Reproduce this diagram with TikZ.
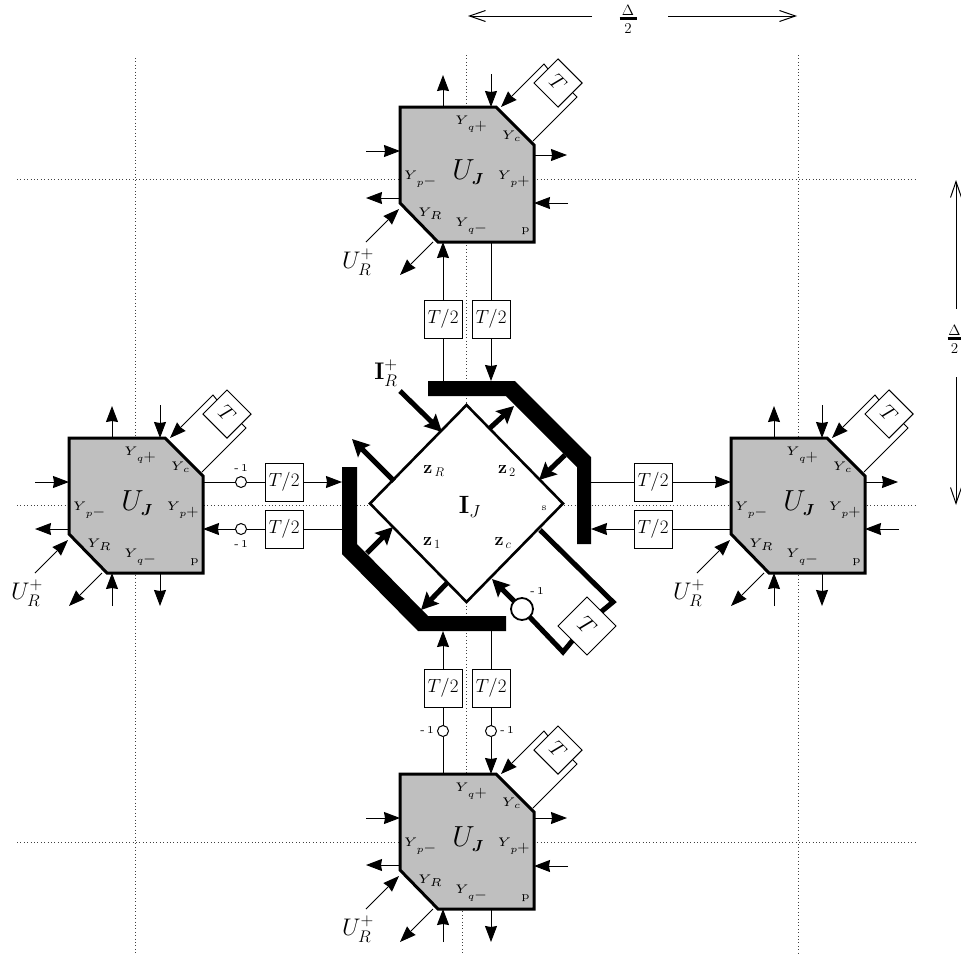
\RequirePackage{fix-cm}
\documentclass[tikz,border=0pt]{standalone}
\usepackage{amsmath}
\usepackage{bm}
\usepackage{graphicx}
\usetikzlibrary{arrows.meta,shapes.geometric}
\newcommand{\fsz}[1]{\fontsize{#1}{#1}\selectfont}
\newcommand{\ylab}[5]{\scalebox{2.5}{\tiny$Y$}\kern#5pt\raisebox{#2pt}{\scalebox{#3}{\tiny$#1$}}\raisebox{-6pt}{\fsz{16}#4}}
\newcommand{\ycorner}[4]{\scalebox{2.5}{\tiny$Y$}\kern#4pt\raisebox{#2pt}{\scalebox{#3}{\tiny$#1$}}}
\newcommand{\ujlab}{\fsz{29}$U$\kern-3pt\raisebox{-5pt}{\fsz{16}$\bm{J}$}}
\newcommand{\minusone}{\scalebox{2.1}{\tiny -\,1}}
\newcommand{\halfdelta}[1]{\vbox{\offinterlineskip\fsz{15}\hbox to #1{\hss$\Delta$\hss}\kern2pt\hrule height 2.6pt\kern3.5pt\hbox to #1{\hss$2$\hss}}}
\tikzset{
  thin line/.style={line width=1pt},
  tiparrow/.style={line width=1pt,-{Stealth[length=16pt,width=12pt,inset=1pt]}},
  barb/.style={line width=1pt,-{Straight Barb[length=16pt,width=11pt]}},
  fat/.style={line width=5pt,line join=miter},
  fatarrow/.style={line width=5pt,-{Stealth[length=17pt,width=17pt,inset=3pt]}},
  dotline/.style={line width=.8pt,black!75,dash pattern=on 1pt off 2.4pt},
  delaybox/.style={draw,fill=white,line width=1pt,minimum width=38pt,minimum height=38pt,inner sep=0pt,outer sep=0pt,font=\fsz{19}},
  tbox/.style={draw,fill=white,line width=1pt,minimum size=34pt,inner sep=0pt,outer sep=0pt,rotate=-45,font=\fsz{21}},
  bigtbox/.style={tbox,minimum size=41pt,font=\fsz{23}},
  inv/.style={circle,draw,fill=white,line width=1pt,minimum size=11pt,inner sep=0pt,outer sep=0pt},
  biginv/.style={circle,draw,fill=white,line width=1.8pt,minimum size=22pt,inner sep=0pt,outer sep=0pt},
  txt/.style={inner sep=0pt,outer sep=0pt},
  blockedge/.style={draw,fill=black!25,line width=3pt,line join=miter},
  coreedge/.style={diamond,draw,fill=white,line width=2.6pt,aspect=1,minimum width=193pt,minimum height=197pt,inner sep=0pt,outer sep=0pt},
}
% name, x, y, y of right-hand out arrow, y of right-hand in arrow
\newcommand{\ublock}[5]{%
\begin{scope}[shift={(#2,#3)},name prefix=#1-]
  \coordinate (nw) at (0,0);
  \coordinate (ne) at (96,0);
  \coordinate (en) at (134,38);
  \coordinate (se) at (134,135);
  \coordinate (sw) at (38,135);
  \coordinate (ws) at (0,96);
  \coordinate (qpo) at (43,0);  \coordinate (qpoend) at (43,-32);
  \coordinate (qpi) at (91,0);  \coordinate (qpistart) at (91,-33);
  \coordinate (pmi) at (0,44);  \coordinate (pmistart) at (-34,44);
  \coordinate (pmo) at (0,91);  \coordinate (pmoend) at (-34,91);
  \coordinate (ppo) at (134,#4);  \coordinate (ppoend) at (167,#4);
  \coordinate (ppi) at (134,#5);  \coordinate (ppistart) at (168,#5);
  \coordinate (qmi) at (43,135); \coordinate (qmistart) at (43,168);
  \coordinate (qmo) at (91,135); \coordinate (qmoend) at (91,168);
  \coordinate (ri) at (-1,102);  \coordinate (ristart) at (-34,135);
  \coordinate (ro) at (33,135);  \coordinate (roend) at (0,168);
  \coordinate (ctip) at (101,0); \coordinate (cknee) at (144,-43); \coordinate (cin) at (148,-38);
  \coordinate (cout) at (133,34); \coordinate (cknee2) at (177,-10); \coordinate (cret) at (173,-14);
  \draw[blockedge] (nw) -- (ne) -- (en) -- (se) -- (sw) -- (ws) -- cycle;
  \node[tbox] (t) at (158,-24) {$T$};
  \draw[thin line] (cout) -- (cknee2) -- (cret);
  \draw[tiparrow] (cin) -- (cknee) -- (ctip);
  \draw[tiparrow] (ristart) -- (ri);
  \draw[tiparrow] (ro) -- (roend);
  \node[txt] (yqp) at (71,17) {\ylab{q}{-5.5}{1.9}{$+$}{-1}};
  \node[txt] (yqm) at (71,119) {\ylab{q}{-5.5}{1.9}{$-$}{-1}};
  \node[txt] (ypm) at (20,72) {\ylab{p}{-5.5}{1.9}{$-$}{-1}};
  \node[txt] (ypp) at (113.5,72) {\ylab{p}{-5.5}{1.9}{$+$}{-1}};
  \node[txt] (yc) at (111,29) {\ycorner{c}{-2}{1.9}{-1.5}};
  \node[txt] (yr) at (30,107) {\ycorner{R}{-3}{2.3}{-2}};
  \node[txt] (uj) at (68,65) {\ujlab};
  \node[txt] (ptype) at (125.5,124) {\scalebox{2.2}{\tiny p}};
  \node[txt] (urp) at (-42,155) {\fsz{24}$U_R^+$};
\end{scope}}
\begin{document}
\begin{tikzpicture}[x=1pt,y=-1pt]
\useasboundingbox (0,0) rectangle (961,956);
% dotted grid
\draw[dotline] (17,179) -- (917,179);
\draw[dotline] (17,505) -- (917,505);
\draw[dotline] (17,842) -- (917,842);
\draw[dotline] (135,58) -- (135,955);
\draw[dotline] (466.5,55) -- (466.5,774);
\draw[dotline] (462,908) -- (462,955);
\draw[dotline] (798,55) -- (798,955);
% dimension marks
\node[txt] (dtop) at (628,19) {\halfdelta{17pt}};
\coordinate (dl) at (468,16); \coordinate (dr) at (797,16);
\coordinate (dls) at (592,16); \coordinate (drs) at (668,16);
\draw[barb] (dls) -- (dl);
\draw[barb] (drs) -- (dr);
\node[txt] (dside) at (954.5,339) {\halfdelta{14pt}};
\coordinate (du) at (956,180); \coordinate (dd) at (956,505);
\coordinate (dus) at (956,309); \coordinate (dds) at (956,377);
\draw[barb] (dus) -- (du);
\draw[barb] (dds) -- (dd);
% four U blocks
\ublock{top}{400}{107}{48}{96}
\ublock{left}{69}{438}{44}{91}
\ublock{right}{731}{438}{44}{91}
\ublock{bot}{400}{774}{44}{92}
% free-standing block arrows
\draw[tiparrow] (top-qpo) -- (top-qpoend);
\draw[tiparrow] (left-qpo) -- (left-qpoend);
\draw[tiparrow] (right-qpo) -- (right-qpoend);
\draw[tiparrow] (top-pmistart) -- (top-pmi);
\draw[tiparrow] (left-pmistart) -- (left-pmi);
\draw[tiparrow] (bot-pmistart) -- (bot-pmi);
\draw[tiparrow] (top-pmo) -- (top-pmoend);
\draw[tiparrow] (left-pmo) -- (left-pmoend);
\draw[tiparrow] (bot-pmo) -- (bot-pmoend);
\draw[tiparrow] (top-ppo) -- (top-ppoend);
\draw[tiparrow] (right-ppo) -- (right-ppoend);
\draw[tiparrow] (bot-ppo) -- (bot-ppoend);
\draw[tiparrow] (top-ppistart) -- (top-ppi);
\draw[tiparrow] (right-ppistart) -- (right-ppi);
\draw[tiparrow] (bot-ppistart) -- (bot-ppi);
\draw[tiparrow] (top-qpistart) -- (top-qpi);
\draw[tiparrow] (left-qpistart) -- (left-qpi);
\draw[tiparrow] (right-qpistart) -- (right-qpi);
\draw[tiparrow] (left-qmistart) -- (left-qmi);
\draw[tiparrow] (right-qmistart) -- (right-qmi);
\draw[tiparrow] (bot-qmistart) -- (bot-qmi);
\draw[tiparrow] (left-qmo) -- (left-qmoend);
\draw[tiparrow] (right-qmo) -- (right-qmoend);
\draw[tiparrow] (bot-qmo) -- (bot-qmoend);
% centre bars
\fill[black] (428,381) -- (515,381) -- (591,457) -- (591,544) -- (577,544) -- (577,467) -- (506,396) -- (428,396) -- cycle;
\fill[black] (342,467) -- (357,467) -- (357,544) -- (428,616) -- (506,616) -- (506,631) -- (418,631) -- (342,554) -- cycle;
\coordinate (bartopa) at (443,381); \coordinate (bartopb) at (491,381);
\coordinate (barbota) at (443,631); \coordinate (barbotb) at (491,631);
\coordinate (barlefta) at (342,482); \coordinate (barleftb) at (342,529);
\coordinate (barrighta) at (591,482); \coordinate (barrightb) at (591,529);
% centre diamond
\node[coreedge] (core) at (466.5,503.5) {};
\node[txt] (ij) at (470,507) {\fsz{25}$\mathbf{I}_J$};
\node[txt] (zr) at (434,471) {\fsz{18}$\mathbf{z}_{\,R}$};
\node[txt] (z2) at (507,471) {\fsz{18}$\mathbf{z}_{\,2}$};
\node[txt] (z1) at (432,543) {\fsz{18}$\mathbf{z}_{\,1}$};
\node[txt] (zc) at (503,543) {\fsz{18}$\mathbf{z}_{\,c}$};
\node[txt] (stype) at (544,508) {\scalebox{2}{\tiny s}};
% thick arrows around the diamond
\node[txt] (irp) at (386,373) {\fsz{24}$\mathbf{I}_R^+$};
\coordinate (a1s) at (400,391); \coordinate (a1e) at (442,432);
\coordinate (a2s) at (394,481); \coordinate (a2e) at (352,439);
\coordinate (a3s) at (490,428); \coordinate (a3e) at (514,406);
\coordinate (a4s) at (565,455); \coordinate (a4e) at (539,480);
\coordinate (a5s) at (367,553); \coordinate (a5e) at (393,527);
\coordinate (a6s) at (447,583); \coordinate (a6e) at (421,610);
\draw[fatarrow] (a1s) -- (a1e);
\draw[fatarrow] (a2s) -- (a2e);
\draw[fatarrow] (a3s) -- (a3e);
\draw[fatarrow] (a4s) -- (a4e);
\draw[fatarrow] (a5s) -- (a5e);
\draw[fatarrow] (a6s) -- (a6e);
% centre feedback loop
\node[bigtbox] (ct) at (587,626) {$T$};
\coordinate (cfb1) at (540,530); \coordinate (cfb2) at (613,602);
\coordinate (cfb3) at (563,652); \coordinate (cfb4) at (492,579);
\coordinate (cinvc) at (522,609);
\draw[fat] (cfb1) -- (cfb2) -- (ct.north);
\draw[fat] (ct.south) -- (cfb3) -- (cinvc);
\draw[fatarrow] (cinvc) -- (cfb4);
\node[biginv] (cinv) at (cinvc) {};
\node[txt] (cm1) at (537,591) {\minusone};
% top link
\node[delaybox] (tt1) at (443,319) {$T/2$};
\node[delaybox] (tt2) at (491,319) {$T/2$};
\draw[tiparrow] (tt1) -- (top-qmi);
\draw[thin line] (tt1) -- (bartopa);
\draw[thin line] (top-qmo) -- (tt2);
\draw[tiparrow] (tt2) -- (bartopb);
% bottom link
\node[delaybox] (bt1) at (443,688) {$T/2$};
\node[delaybox] (bt2) at (491,688) {$T/2$};
\node[inv] (bi1) at (443,731) {};
\node[inv] (bi2) at (491,731) {};
\node[txt] (bm1) at (427,730) {\minusone};
\node[txt] (bm2) at (507,730) {\minusone};
\draw[tiparrow] (bt1) -- (barbota);
\draw[thin line] (barbotb) -- (bt2);
\draw[thin line] (bt1) -- (bi1) -- (bot-qpo);
\draw[thin line] (bt2) -- (bi2);
\draw[tiparrow] (bi2) -- (bot-qpi);
% left link
\node[delaybox] (lt1) at (284,482) {$T/2$};
\node[delaybox] (lt2) at (284,529) {$T/2$};
\node[inv] (li1) at (241,482) {};
\node[inv] (li2) at (241,529) {};
\node[txt] (lm1) at (241,468) {\minusone};
\node[txt] (lm2) at (241,544) {\minusone};
\coordinate (lo) at (203,482); \coordinate (la) at (203,529);
\draw[thin line] (lo) -- (li1) -- (lt1);
\draw[tiparrow] (lt1) -- (barlefta);
\draw[thin line] (barleftb) -- (lt2) -- (li2);
\draw[tiparrow] (li2) -- (la);
% right link
\node[delaybox] (rt1) at (653,482) {$T/2$};
\node[delaybox] (rt2) at (653,529) {$T/2$};
\coordinate (rp) at (731,482); \coordinate (rm) at (731,529);
\draw[thin line] (barrighta) -- (rt1);
\draw[tiparrow] (rt1) -- (rp);
\draw[thin line] (rm) -- (rt2);
\draw[tiparrow] (rt2) -- (barrightb);
\end{tikzpicture}
\end{document}
